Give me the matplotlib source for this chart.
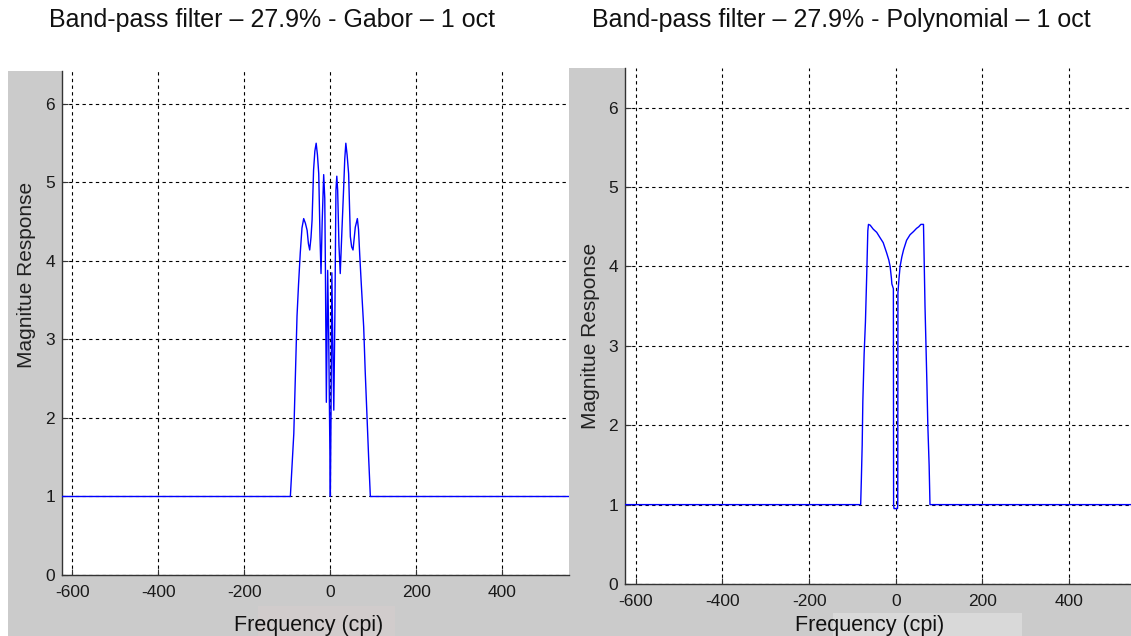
import matplotlib
matplotlib.use("Agg")
import matplotlib.pyplot as plt
from matplotlib.patches import Rectangle

plt.rcParams['font.family'] = ['Liberation Sans', 'DejaVu Sans']
plt.rcParams['axes.unicode_minus'] = False

# ---------------- data ----------------
titles = ["Band-pass filter \u2013 27.9% - Gabor \u2013 1 oct",
          "Band-pass filter \u2013 27.9% - Polynomial \u2013 1 oct"]
xlabel_text = "Frequency (cpi)"
ylabel_text = "Magnitue Response"
xticks = [-600, -400, -200, 0, 200, 400]
yticks = [0, 1, 2, 3, 4, 5, 6]

gabor_freq = [-624, -93, -90, -85, -81, -77.5, -74, -70, -66, -62, -58, -54, -51, -48,
              -45, -42.5, -39, -36, -33, -30, -27, -24, -21.7, -19, -15.5, -13, -11.5,
              -9.3, -6.2, -3.9, -1.5, 0, 1.5, 3.5, 6, 8, 10.5, 13, 15, 17, 20, 23, 27,
              31, 33.5, 36, 39, 42.5, 46.5, 49.5, 52.7, 58, 62.8, 65.5, 68.2, 72, 77.5,
              81, 85, 89, 93, 554]
gabor_mag = [1, 1, 1.3, 1.8, 2.6, 3.3, 3.7, 4.1, 4.42, 4.54, 4.48, 4.39, 4.22, 4.14,
             4.3, 4.52, 5.16, 5.4, 5.5, 5.35, 5.11, 4.3, 3.84, 4.5, 5.1, 4.8, 3.9,
             2.2, 3.88, 3.07, 1.8, 1.0, 2.0, 3.85, 2.8, 2.1, 3.3, 4.9, 5.08, 4.9, 4.2,
             3.84, 4.4, 4.94, 5.3, 5.5, 5.35, 5.11, 4.31, 4.18, 4.14, 4.43, 4.54, 4.4,
             4.09, 3.7, 3.16, 2.6, 2.05, 1.5, 1, 1]

poly_freq = [-625, -81, -79.5, -77.5, -76, -73, -70, -67, -64.5, -63, -59, -52, -44,
             -36, -29, -21, -16, -13, -10, -9, -5.5, -5, -4, 4, 4.6, 5, 7.5, 10, 14,
             18, 25, 33, 41, 48, 53, 58, 64, 65.5, 67.5, 70, 72, 74, 77, 79, 543]
poly_mag = [1, 1, 1.3, 1.75, 2.3, 2.9, 3.3, 3.9, 4.45, 4.53, 4.52, 4.47, 4.43,
            4.36, 4.30, 4.17, 4.08, 4.0, 3.85, 3.78, 3.72, 1.0, 0.95, 0.95, 1.0, 3.67,
            3.85, 4.0, 4.12, 4.21, 4.33, 4.4, 4.44, 4.48, 4.5, 4.53, 4.53, 4.1, 3.5,
            2.95, 2.5, 2.0, 1.5, 1.0, 1]

# ---------------- figure ----------------
W, H = 1131, 636
fig = plt.figure(figsize=(W / 100, H / 100), dpi=100, facecolor='white')

def fx(px):
    return px / W

def fy(py):
    return 1 - py / H

grey = '#cbcbcb'
bg = [((8, 71), 569 - 8, grey),
      ((569, 68), 1131 - 569, grey),
      ((258, 606), 395 - 258, '#d1cccc'),
      ((833, 613), 1022 - 833, '#d9d9d9')]
for (px, py), pw, col in bg:
    fig.patches.append(Rectangle((fx(px), 0), fx(pw), fy(py), transform=fig.transFigure,
                                 facecolor=col, edgecolor='none', zorder=-5))

panels = [
    dict(box=(62, 71, 568.6, 575), xlim=(-624, 554), ylim=(0, 6.42),
         x=gabor_freq, y=gabor_mag, title=titles[0], tcenter=(272, 20),
         ylab=(27, 275), xlab=(309, 625)),
    dict(box=(625, 68, 1131, 584), xlim=(-625, 543), ylim=(0, 6.5),
         x=poly_freq, y=poly_mag, title=titles[1], tcenter=(841, 20),
         ylab=(590, 336), xlab=(869.5, 625)),
]

for p in panels:
    x0, y0, x1, y1 = p['box']
    ax = fig.add_axes([fx(x0), fy(y1), fx(x1 - x0), (y1 - y0) / H])
    ax.set_zorder(2)
    ax.set_facecolor('white')
    ax.plot(p['x'], p['y'], color='#0000ff', lw=1.0, zorder=3)
    ax.set_xlim(*p['xlim'])
    ax.set_ylim(*p['ylim'])
    ax.set_xticks(xticks)
    ax.set_yticks(yticks)
    ax.grid(True, color='black', linestyle=(0, (3, 3)), linewidth=0.8)
    for s in ['top', 'right']:
        ax.spines[s].set_visible(False)
    for s in ['left', 'bottom']:
        ax.spines[s].set_color('#333333')
        ax.spines[s].set_linewidth(1.0)
    ax.tick_params(axis='both', direction='in', length=4, width=0.8, color='#333333',
                   labelsize=12.5, labelcolor='#1a1a1a')
    ax.tick_params(axis='x', pad=7)
    ax.tick_params(axis='y', pad=5)

    w = x1 - x0
    h = y1 - y0
    ax.set_xlabel(xlabel_text, fontsize=15.5, color='#111111')
    ax.xaxis.set_label_coords((p['xlab'][0] - x0) / w, (y1 - p['xlab'][1]) / h)
    ax.xaxis.label.set_verticalalignment('center')
    ax.set_ylabel(ylabel_text, fontsize=15, color='#222222')
    ax.yaxis.set_label_coords((p['ylab'][0] - x0) / w, (y1 - p['ylab'][1]) / h)
    ax.yaxis.label.set_verticalalignment('center')

    fig.text(fx(p['tcenter'][0]), fy(p['tcenter'][1]), p['title'], fontsize=18,
             color='#111111', ha='center', va='center')

fig.savefig('out.png', dpi=100, facecolor='white')
